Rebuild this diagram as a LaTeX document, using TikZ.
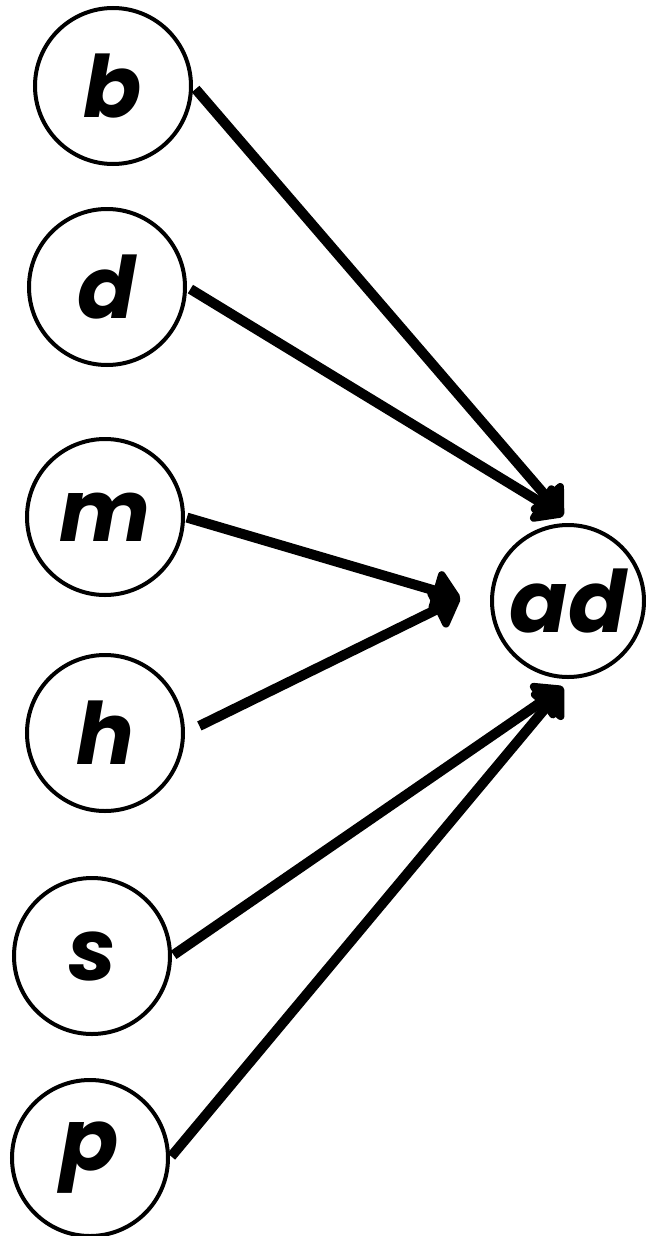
\documentclass[tikz,border=0pt]{standalone}
\usepackage{fontspec}
\setmainfont{Poppins}
\usetikzlibrary{arrows.meta,positioning}
\begin{document}
\begin{tikzpicture}[x=0.5pt, y=-0.5pt,
    vertex/.style={circle, draw, line width=2pt, minimum size=78pt, inner sep=0pt, font=\fontsize{43}{43}\selectfont\bfseries\itshape},
    edge/.style={line width=5pt, -{Triangle[length=15pt,width=24pt,round]}}]

                \useasboundingbox (0,0) rectangle (646,1236);

                \foreach \x/ \a/ \b in {b/113/86, d/107/287, m/105/517, h/105/733, s/92/956, p/90/1158}{
                    \node[vertex] (\x) at (\a,\b) {\x};
                }
                \node[vertex, minimum size=76pt] (ad) at (568,601) {ad};

                \coordinate (top) at (563,516);
                \coordinate (mid) at (460,598);
                \coordinate (bot) at (563,687);

                \foreach \s/ \d/ \g in {b/top/2pt, d/top/2pt, m/mid/1pt, h/mid/8pt, s/bot/1pt, p/bot/1pt}{
                    \draw[edge, shorten <=\g] (\s.east) -- (\d);
                }
        \end{tikzpicture}
\end{document}
